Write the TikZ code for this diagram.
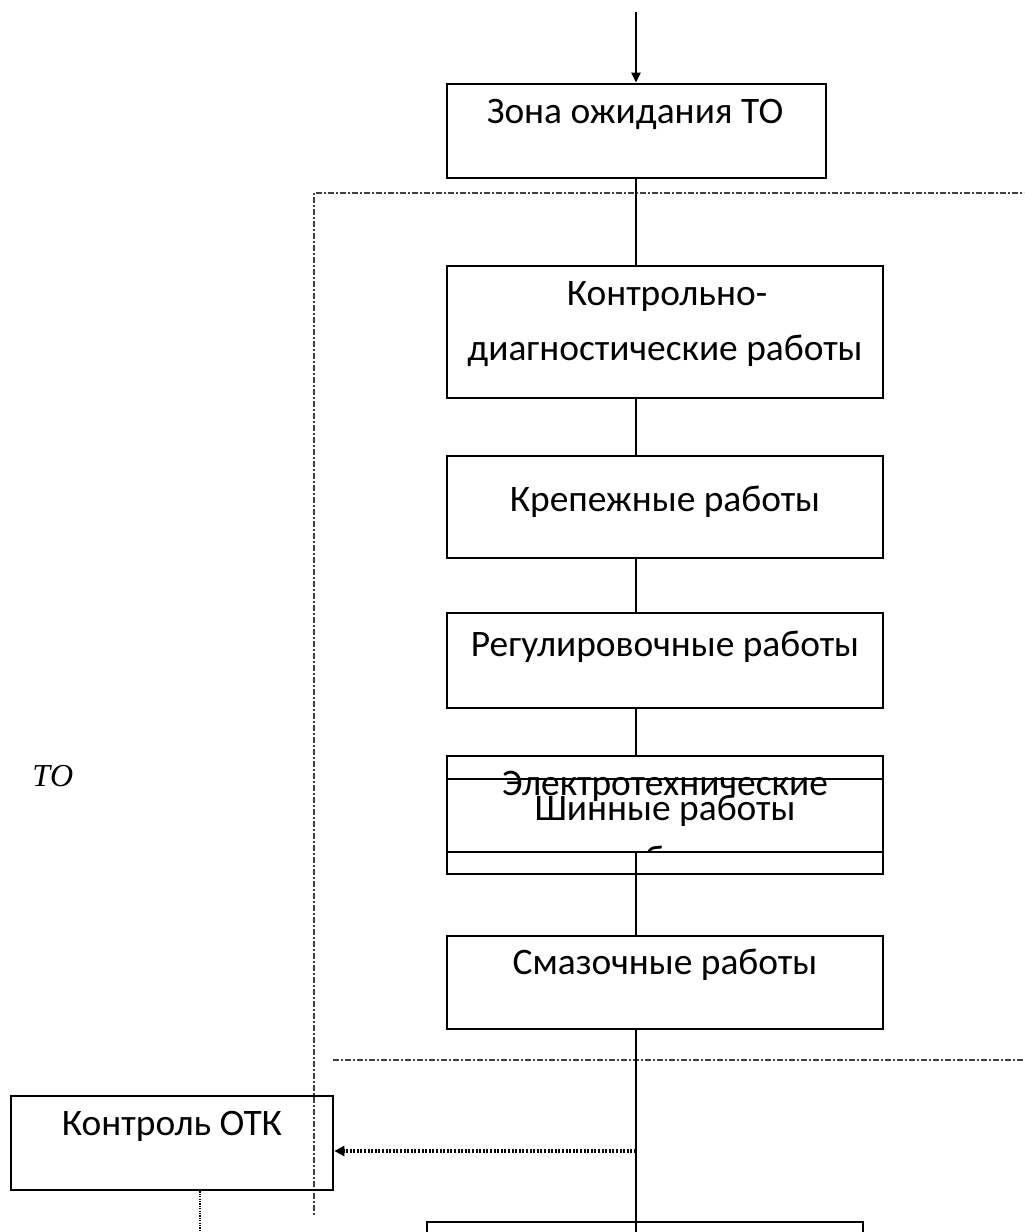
\documentclass[tikz,border=0pt]{standalone}
\usepackage{fontspec}
\setmainfont{Carlito}
\newfontfamily\serifit{Liberation Serif}
\usetikzlibrary{arrows.meta}
\begin{document}
\begin{tikzpicture}[x=0.5pt,y=-0.5pt,
  box/.style={draw, line width=1.35pt, inner sep=0pt, minimum width=218pt},
  txt/.style={anchor=base, inner sep=0pt, font=\fontsize{18.7}{22}\selectfont},
  flow/.style={line width=1.4pt},
  zone/.style={draw=black!75, line width=0.65pt, dash pattern=on 3pt off 1pt on 1pt off 1pt},
  dots/.style={line width=1.6pt, dash pattern=on 1pt off 0.8pt},
  thindots/.style={line width=0.6pt, dash pattern=on 0.6pt off 0.6pt}]
\clip (0,0) rectangle (1024,1232);
\fill[white] (0,0) rectangle (1024,1232);
% zone boundary
\coordinate (z1) at (1030,193);
\coordinate (z2) at (314,193);
\coordinate (z3) at (314,1215);
\coordinate (z4) at (333,1060);
\coordinate (z5) at (1030,1060);
\draw[zone] (z1) -- (z2) -- (z3);
\draw[zone] (z4) -- (z5);
% boxes
\node[box, minimum width=189.5pt, minimum height=47pt] (b1) at (636.5,131) {};
\node[box, minimum height=66pt] (b2) at (665,332) {};
\node[box, minimum height=51pt] (b3) at (665,507) {};
\node[box, minimum height=47.5pt] (b4) at (665,660.5) {};
\node[box, minimum height=59pt] (b5) at (665,815) {};
\node[box, minimum height=36.5pt] (b6) at (665,815.5) {};
\node[box, minimum height=46.5pt] (b7) at (665,982.5) {};
\node[box, minimum height=60pt] (b8) at (645,1282) {};
\node[box, minimum width=161pt, minimum height=47pt] (otk) at (172,1143) {};
% texts
\node[txt] (t1) at (635,123) {Зона ожидания ТО};
\node[txt] (t2a) at (667,305) {Контрольно-};
\node[txt] (t2b) at (665,360) {диагностические работы};
\node[txt] (t3) at (665,511) {Крепежные работы};
\node[txt] (t4) at (665,656) {Регулировочные работы};
\node[txt] (t5) at (665,795) {Электротехнические};
\node[txt] (t6) at (665,820) {Шинные работы};
\begin{scope}
\clip (447,760) rectangle (883,850);
\node[txt] (t5b) at (665,871) {работы};
\end{scope}
\node[txt] (t7) at (665,974) {Смазочные работы};
\node[txt] (totk) at (172,1135) {Контроль ОТК};
\node[anchor=base west, inner sep=0pt, font=\serifit\itshape\fontsize{16}{19}\selectfont] (to) at (32,786) {ТО};
% flow
\coordinate (axis) at (636,0);
\coordinate (in) at (636,12);
\draw[flow,-{Triangle[length=5pt,width=4.5pt]}] (in) -- (axis |- b1.north);
\draw[flow] (axis |- b1.south) -- (axis |- b2.north);
\draw[flow] (axis |- b2.south) -- (axis |- b3.north);
\draw[flow] (axis |- b3.south) -- (axis |- b4.north);
\draw[flow] (axis |- b4.south) -- (axis |- b5.north);
\draw[flow] (axis |- b6.south) -- (axis |- b7.north);
\draw[flow] (axis |- b7.south) -- (axis |- b8.south);
\coordinate (tap) at (636,1151);
\draw[dots,-{Triangle[length=5pt,width=5pt]}] (tap) -- (otk.east |- tap);
\coordinate (d2) at (200,1240);
\draw[thindots] (otk.south -| d2) -- (d2);
\end{tikzpicture}
\end{document}
